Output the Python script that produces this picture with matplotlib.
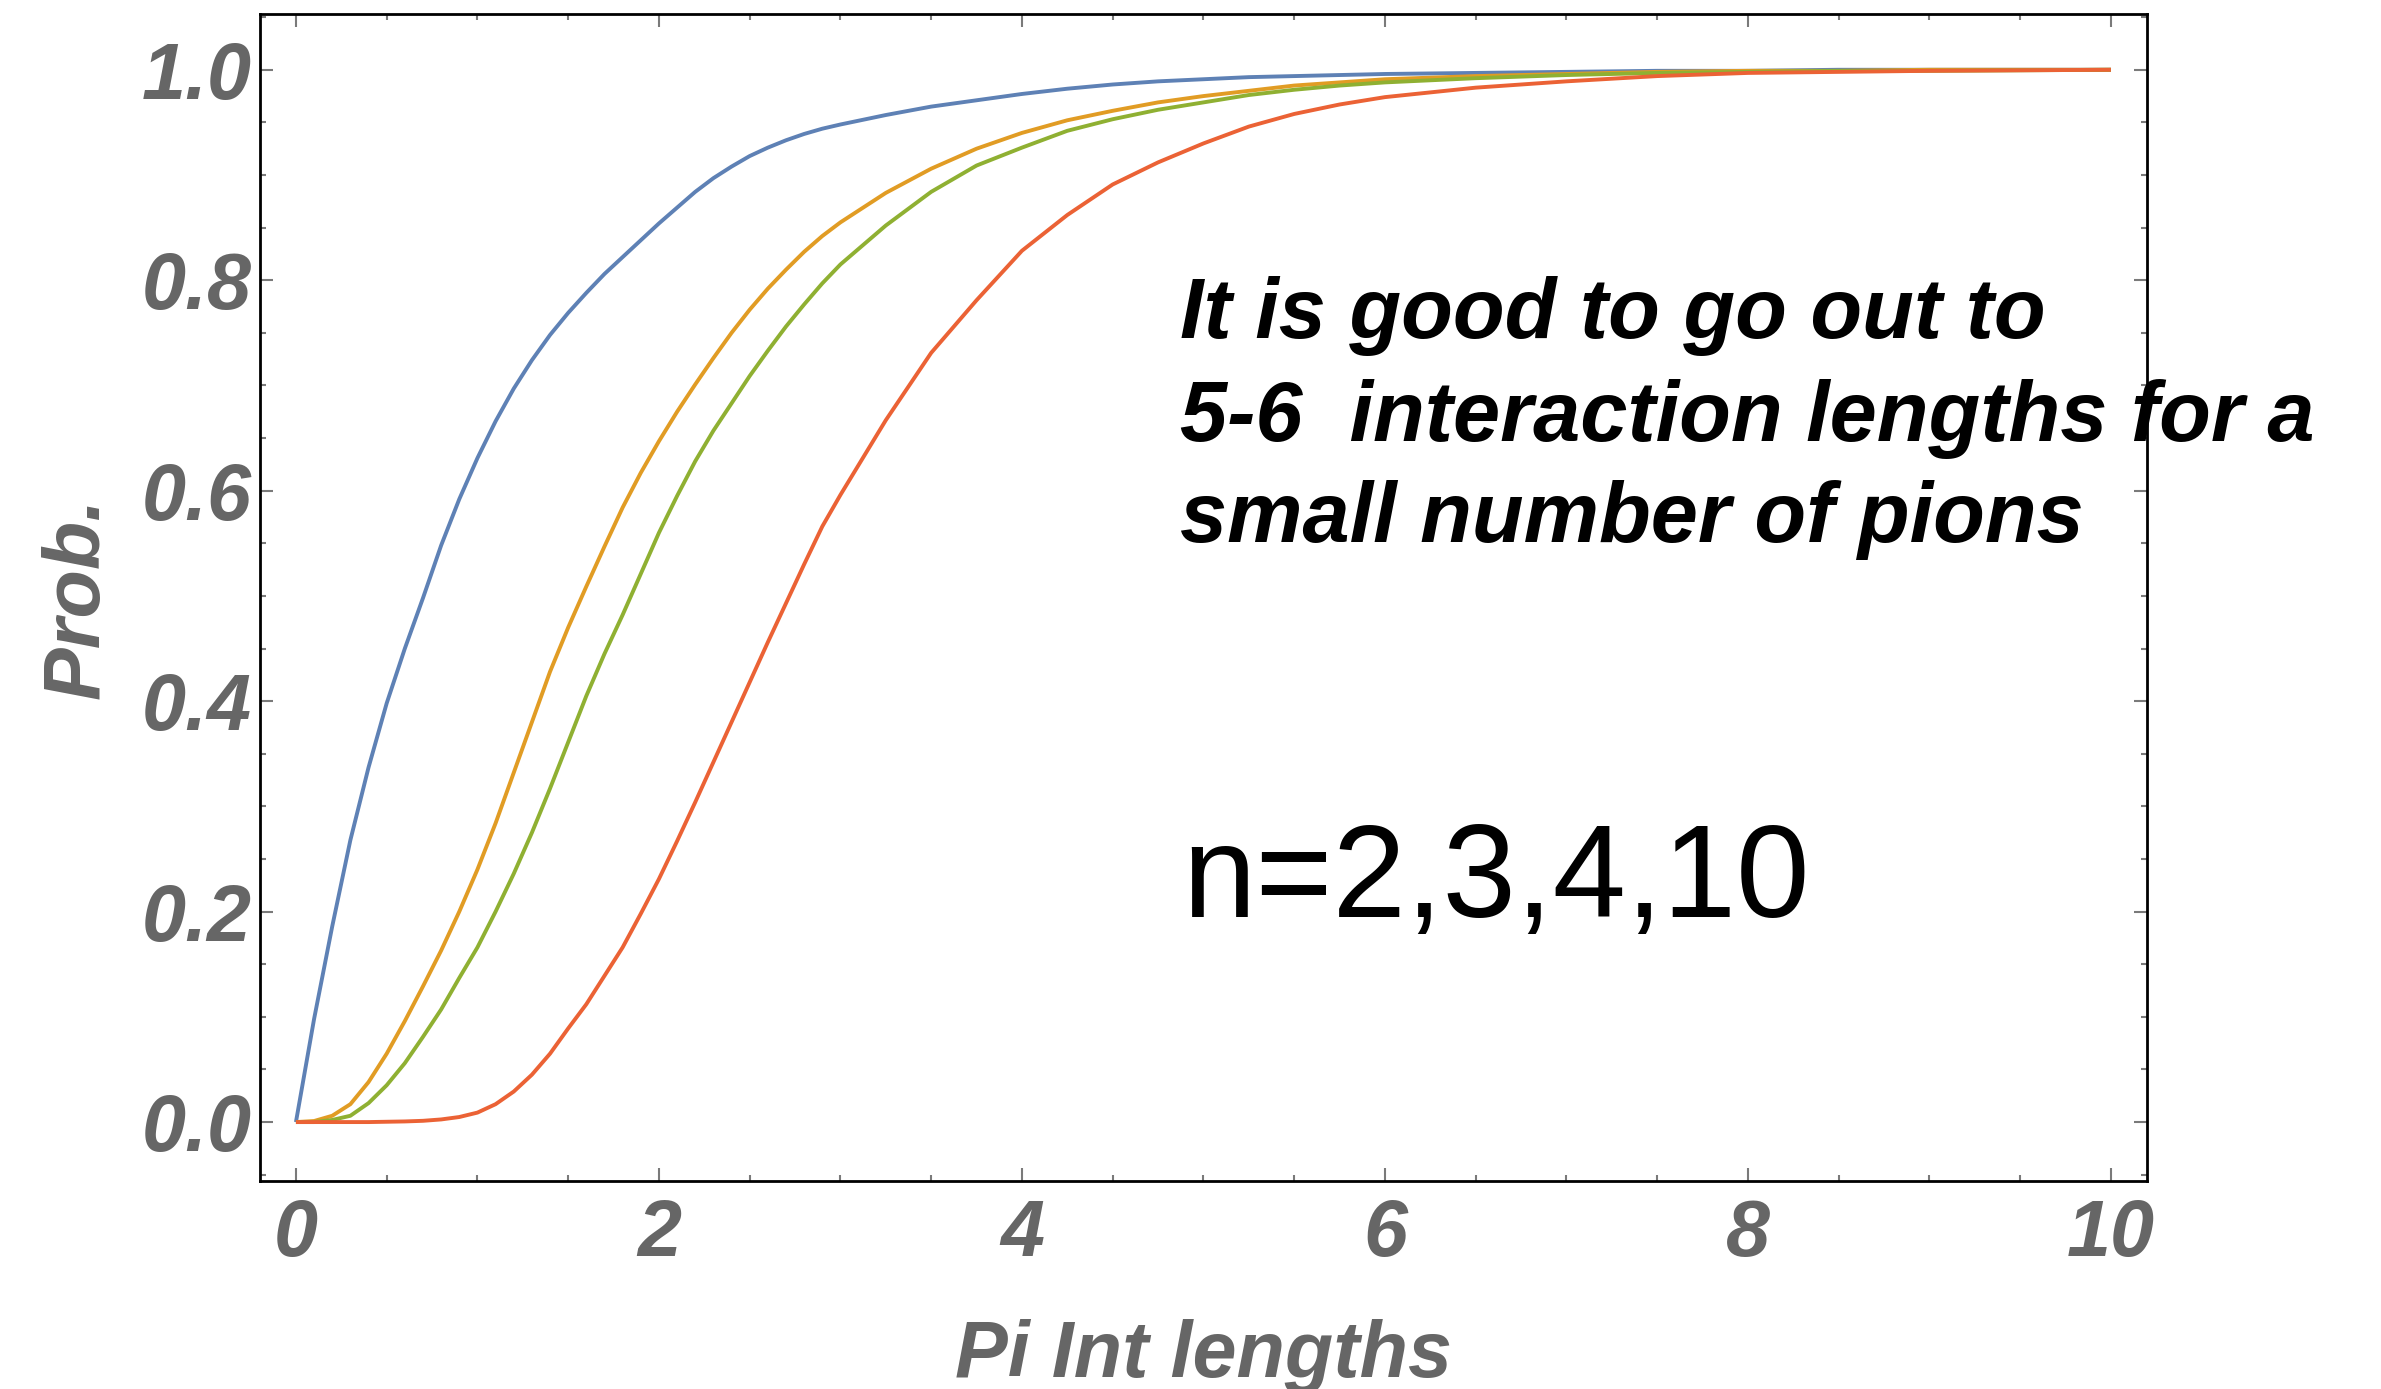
import matplotlib
matplotlib.use("Agg")
import matplotlib.pyplot as plt
from matplotlib.font_manager import FontProperties
from matplotlib.ticker import MultipleLocator, FormatStrFormatter

# interaction lengths (x) and probabilities
int_lengths = [0.0, 0.1, 0.2, 0.3, 0.4, 0.5, 0.6, 0.7, 0.8, 0.9,
               1.0, 1.1, 1.2, 1.3, 1.4, 1.5, 1.6, 1.7, 1.8, 1.9,
               2.0, 2.1, 2.2, 2.3, 2.4, 2.5, 2.6, 2.7, 2.8, 2.9,
               3.0, 3.25, 3.5, 3.75, 4.0, 4.25, 4.5, 4.75, 5.0, 5.25,
               5.5, 5.75, 6.0, 6.5, 7.0, 7.5, 8.0, 8.5, 9.0, 10.0]

prob_n2 = [0, 0.098, 0.186, 0.268, 0.337, 0.398, 0.450, 0.498, 0.548, 0.592,
           0.631, 0.666, 0.697, 0.724, 0.748, 0.769, 0.788, 0.806, 0.822, 0.838,
           0.854, 0.869, 0.884, 0.897, 0.908, 0.918, 0.926, 0.933, 0.939, 0.944,
           0.948, 0.957, 0.965, 0.971, 0.977, 0.982, 0.986, 0.989, 0.991, 0.993,
           0.994, 0.995, 0.996, 0.997, 0.998, 0.999, 0.999, 1.0, 1.0, 1.0]
prob_n3 = [0, 0.001, 0.006, 0.017, 0.038, 0.065, 0.096, 0.129, 0.163, 0.200,
           0.240, 0.284, 0.332, 0.380, 0.428, 0.470, 0.509, 0.547, 0.584, 0.617,
           0.647, 0.675, 0.701, 0.726, 0.750, 0.772, 0.792, 0.810, 0.827, 0.842,
           0.855, 0.883, 0.906, 0.925, 0.940, 0.952, 0.961, 0.969, 0.975, 0.980,
           0.985, 0.988, 0.991, 0.994, 0.996, 0.998, 0.999, 0.999, 1.0, 1.0]
prob_n4 = [0, 0.0, 0.002, 0.006, 0.018, 0.035, 0.056, 0.081, 0.107, 0.137,
           0.166, 0.200, 0.236, 0.275, 0.317, 0.361, 0.405, 0.445, 0.482, 0.521,
           0.560, 0.595, 0.628, 0.657, 0.683, 0.709, 0.733, 0.756, 0.777, 0.797,
           0.815, 0.852, 0.884, 0.909, 0.926, 0.942, 0.953, 0.962, 0.969, 0.976,
           0.981, 0.985, 0.988, 0.992, 0.995, 0.997, 0.998, 0.999, 0.999, 1.0]
prob_n10 = [0, 0, 0, 0, 0, 0.0003, 0.0006, 0.0012, 0.0025, 0.0048,
            0.009, 0.017, 0.029, 0.045, 0.065, 0.089, 0.112, 0.139, 0.166, 0.198,
            0.231, 0.267, 0.304, 0.342, 0.380, 0.418, 0.456, 0.493, 0.530, 0.566,
            0.596, 0.667, 0.731, 0.781, 0.828, 0.862, 0.891, 0.912, 0.930, 0.946,
            0.958, 0.967, 0.974, 0.983, 0.989, 0.994, 0.997, 0.998, 0.999, 1.0]

series = [prob_n2, prob_n3, prob_n4, prob_n10]
colors = ["#5E81B5", "#E19C24", "#8FB032", "#EB6235"]

note_lines = ["It is good to go out to",
              "5-6  interaction lengths for a",
              "small number of pions"]
n_label = "n=2,3,4,10"

W, H = 2381, 1389
fig = plt.figure(figsize=(W / 100, H / 100), dpi=100)
ax = fig.add_axes([260 / W, 1 - 1181 / H, (2146.5 - 260) / W, (1181 - 14) / H])

for vals, c in zip(series, colors):
    ax.plot(int_lengths, vals, color=c, lw=2.8, solid_capstyle="butt", clip_on=False)

ax.set_xlim(-0.198, 10.196)
ax.set_ylim(-0.056, 1.053)

ax.xaxis.set_major_locator(MultipleLocator(2))
ax.xaxis.set_minor_locator(MultipleLocator(0.5))
ax.yaxis.set_major_locator(MultipleLocator(0.2))
ax.yaxis.set_minor_locator(MultipleLocator(0.05))
ax.yaxis.set_major_formatter(FormatStrFormatter("%.1f"))

gray = "#666666"
lab_font = dict(family="Liberation Sans", weight="bold", style="italic", size=57, color=gray)

ax.tick_params(which="both", direction="in", top=True, right=True, color="#7a7a7a", width=1.5)
ax.tick_params(which="major", length=9.5)
ax.tick_params(which="minor", length=4.5)
ax.tick_params(axis="x", pad=12)
ax.tick_params(axis="y", pad=6)
for lbl in ax.get_xticklabels() + ax.get_yticklabels():
    lbl.set_fontproperties(FontProperties(family="Liberation Sans", weight="bold",
                                          style="italic", size=57))
    lbl.set_color(gray)

for sp in ax.spines.values():
    sp.set_linewidth(2)
    sp.set_color("black")

ax.set_xlabel("Pi Int lengths", labelpad=33, **lab_font)
ax.set_ylabel("Prob.", labelpad=19, **lab_font)

# annotation block, one line per baseline
for txt, base in zip(note_lines, [338, 441, 542]):
    fig.text(1180 / W, 1 - base / H, txt, family="Liberation Sans", weight="bold",
             style="italic", size=61, color="black", va="baseline", ha="left")

fig.text(1182 / W, 1 - 917 / H, n_label, family="Liberation Sans", weight="normal",
         size=95, color="black", va="baseline", ha="left")

fig.savefig("out.png", dpi=100, facecolor="white")
